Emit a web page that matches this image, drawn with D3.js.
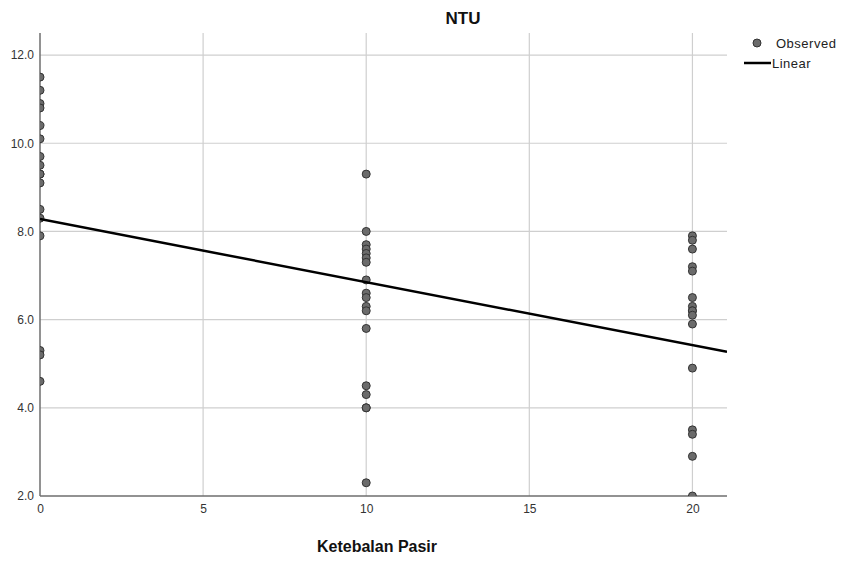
<!DOCTYPE html>
<html>
<head>
<meta charset="utf-8">
<style>
body { margin:0; background:#fff; }
svg { display:block; font-family:"Liberation Sans", Arial, sans-serif; }
</style>
</head>
<body>
<div id="chart"></div>
<script src="https://d3js.org/d3.v7.min.js"></script>
<script>
// values
const xTicks = [0, 5, 10, 15, 20];
const yTicks = [2, 4, 6, 8, 10, 12];
const obs0  = [11.5, 11.2, 10.9, 10.8, 10.4, 10.1, 9.7, 9.5, 9.3, 9.3, 9.1, 8.5, 8.3, 7.9, 5.3, 5.2, 4.6];
const obs10 = [9.3, 8.0, 7.7, 7.6, 7.5, 7.4, 7.3, 6.9, 6.6, 6.5, 6.3, 6.2, 5.8, 4.5, 4.3, 4.0, 4.0, 2.3];
const obs20 = [7.9, 7.8, 7.6, 7.2, 7.1, 6.5, 6.3, 6.2, 6.2, 6.1, 5.9, 4.9, 3.5, 3.4, 2.9, 2.0];
const fitIntercept = 8.28, fitSlope = -0.143;

const W = 841, H = 563;
const pL = 40, pR = 727, pT = 33, pB = 496;

const points = [].concat(
  obs0.map(v => ({x: 0, y: v})),
  obs10.map(v => ({x: 10, y: v})),
  obs20.map(v => ({x: 20, y: v}))
);

const x = d3.scaleLinear().domain([0, 21.06]).range([pL, pR]);
const y = d3.scaleLinear().domain([2, 12.5]).range([pB, pT]);

const svg = d3.select("#chart").append("svg")
  .attr("width", W).attr("height", H);

svg.append("defs").append("clipPath").attr("id", "plot")
  .append("rect").attr("x", pL).attr("y", pT)
  .attr("width", pR - pL).attr("height", pB - pT);

// grid
svg.append("g").selectAll("line").data(yTicks.filter(d => d > 2)).join("line")
  .attr("x1", pL).attr("x2", pR)
  .attr("y1", d => y(d)).attr("y2", d => y(d))
  .attr("stroke", "#cfcfcf").attr("stroke-width", 1.2);
svg.append("g").selectAll("line").data(xTicks.filter(d => d > 0)).join("line")
  .attr("y1", pT).attr("y2", pB)
  .attr("x1", d => x(d)).attr("x2", d => x(d))
  .attr("stroke", "#cfcfcf").attr("stroke-width", 1.2);

// axes
const xAxis = svg.append("g").attr("transform", `translate(0,${pB})`)
  .call(d3.axisBottom(x).tickValues(xTicks).tickSize(0).tickPadding(8));
const yAxis = svg.append("g").attr("transform", `translate(${pL},0)`)
  .call(d3.axisLeft(y).tickValues(yTicks).tickFormat(d3.format(".1f")).tickSize(0).tickPadding(6));
[xAxis, yAxis].forEach(a => {
  a.select(".domain").attr("stroke", "#6e6e6e").attr("stroke-width", 1.5);
  a.selectAll("text").attr("font-size", 12).attr("fill", "#333")
    .attr("font-family", "\"Liberation Sans\", Arial, sans-serif");
});
yAxis.select(".domain").attr("d", `M0,${pT}V${pB}`);
xAxis.select(".domain").attr("d", `M${pL},0H${pR}`);

const plot = svg.append("g").attr("clip-path", "url(#plot)");

plot.selectAll("circle").data(points).join("circle")
  .attr("cx", d => x(d.x)).attr("cy", d => y(d.y)).attr("r", 4)
  .attr("fill", "#6b6b6b").attr("stroke", "#333").attr("stroke-width", 1);

const fitLine = d3.line().x(d => x(d)).y(d => y(fitIntercept + fitSlope * d));
plot.append("path").datum([0, 21.06])
  .attr("d", fitLine).attr("fill", "none")
  .attr("stroke", "#000").attr("stroke-width", 2.5);

// titles
svg.append("text").attr("x", 463).attr("y", 24).attr("text-anchor", "middle")
  .attr("font-size", 17).attr("font-weight", "bold").attr("fill", "#111").text("NTU");
svg.append("text").attr("x", 377).attr("y", 552).attr("text-anchor", "middle")
  .attr("font-size", 16).attr("font-weight", "bold").attr("fill", "#111").text("Ketebalan Pasir");

// legend
const lg = svg.append("g").attr("font-size", 13).attr("letter-spacing", "0.5px").attr("fill", "#222");
lg.append("circle").attr("cx", 757).attr("cy", 43).attr("r", 4)
  .attr("fill", "#6b6b6b").attr("stroke", "#333");
lg.append("text").attr("x", 776).attr("y", 48).text("Observed");
lg.append("line").attr("x1", 744).attr("x2", 771).attr("y1", 63).attr("y2", 63)
  .attr("stroke", "#000").attr("stroke-width", 2.5);
lg.append("text").attr("x", 772).attr("y", 68).text("Linear");
</script>
</body>
</html>
